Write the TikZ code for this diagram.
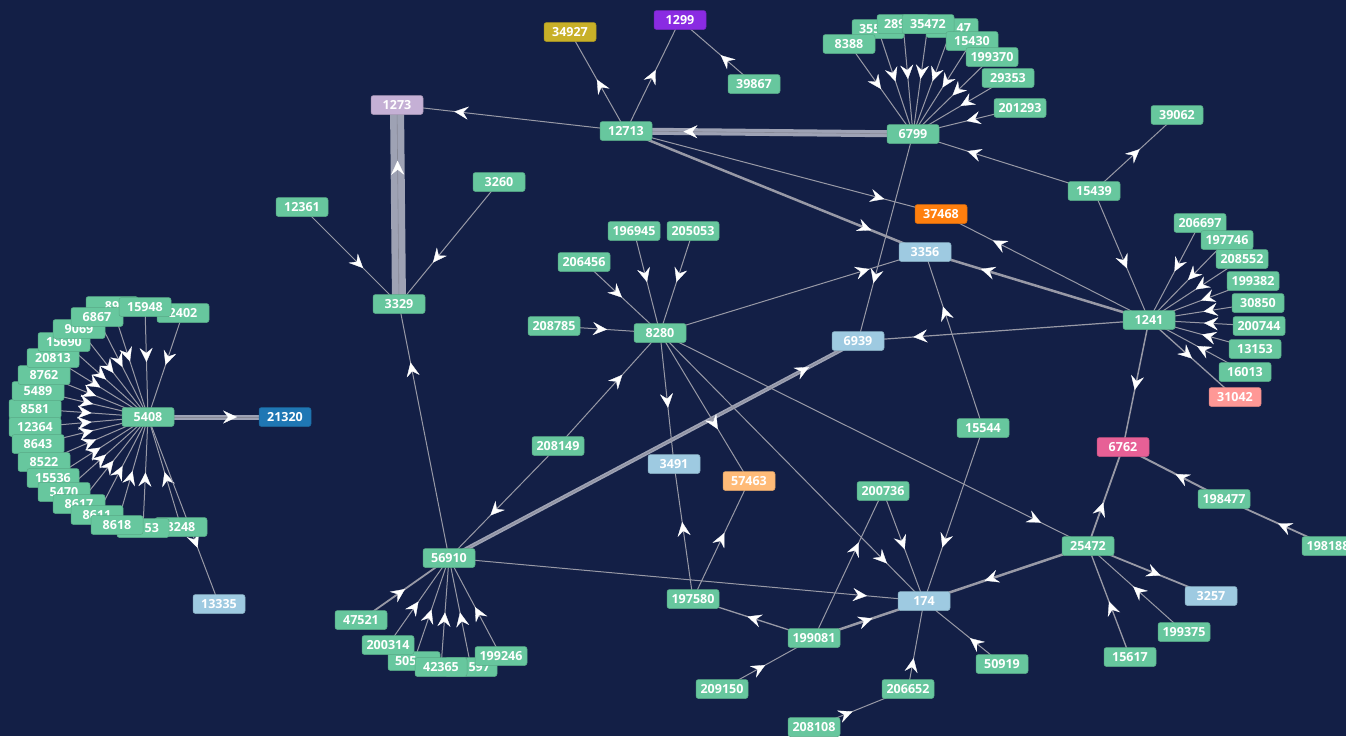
\documentclass[tikz,border=0pt]{standalone}
\usepackage{fontspec}
\newfontfamily\nf{Open Sans}
\usetikzlibrary{arrows.meta,decorations.markings}
\pgfdeclarelayer{back}
\pgfdeclarelayer{edges}
\pgfsetlayers{back,edges,main}
\definecolor{bgc}{RGB}{19,31,70}
\definecolor{egrey}{RGB}{152,153,166}
\definecolor{egreyT}{RGB}{158,162,180}
\definecolor{egreyD}{RGB}{135,137,150}
\definecolor{ngreen}{RGB}{103,199,158}
\definecolor{nlblue}{RGB}{158,202,225}
\definecolor{ndblue}{RGB}{31,119,180}
\definecolor{nlilac}{RGB}{197,176,213}
\definecolor{npurple}{RGB}{138,43,226}
\definecolor{ngold}{RGB}{200,176,40}
\definecolor{norange}{RGB}{255,127,14}
\definecolor{npeach}{RGB}{255,187,120}
\definecolor{nsalmon}{RGB}{255,152,150}
\definecolor{npink}{RGB}{231,96,150}
\tikzset{
  nb/.style={rectangle, rounded corners=2.5pt, minimum width=52pt, minimum height=19pt,
    inner sep=0pt, text=white, font=\nf\bfseries\fontsize{12.5}{12.5}\selectfont,
    fill=#1, draw=#1!85!black, line width=0.5pt},
  nb/.default=ngreen,
  part/.style={text width=38pt, align=left},
  partr/.style={text width=38pt, align=right},
  ed/.style={draw=egrey, line width=1pt, postaction={decorate, decoration={markings,
    mark=at position #1 with {\arrow[white]{Stealth[length=14pt,width=13pt,inset=5pt,line width=0.3pt]}}}}},
  ed/.default=0.6,
}
\newcommand\lnk[4][1]{\draw[ed=#4, line width=#1pt] (#2.center) -- (#3.center);}
\newcommand\lnkT[4][4]{\draw[draw=egreyT, line width=#1pt] (#2.center) -- (#3.center);
  \draw[draw=egreyD, line width=0.6pt] (#2.center) -- (#3.center);
  \path[ed=#4, draw=none] (#2.center) -- (#3.center);}
\begin{document}
\begin{tikzpicture}[x=1pt,y=-1pt]
\useasboundingbox (0,0) rectangle (1346,736);
\begin{pgfonlayer}{back}
\fill[bgc] (0,0) rectangle (1346,736);
\end{pgfonlayer}
% ---------- left ring ----------
\node[nb] (n8581) at (35,409) {8581};
\node[nb] (n12364) at (35,427) {12364};
\node[nb] (n5489) at (38,391) {5489};
\node[nb] (n8643) at (38,444) {8643};
\node[nb] (n8762) at (44,375) {8762};
\node[nb] (n8522) at (44,462) {8522};
\node[nb] (n20813) at (53,358) {20813};
\node[nb] (n15536) at (53,478) {15536};
\node[nb] (n15690) at (64,342) {15690};
\node[nb] (n5470) at (64,492) {5470};
\node[nb] (n9069) at (79,329) {9069};
\node[nb] (n8617) at (79,504) {8617};
\node[nb] (n89) at (112,306) {89};
\node[nb] (n8611) at (97,515) {8611};
\node[nb] (n6867) at (97,317) {6867};
\node[nb] (n8248) at (181,527) {8248};
\node[nb] (n2402) at (183,313) {2402};
\node[nb, text width=32pt, align=right] (n53) at (143,528) {53};
\node[nb] (n15948) at (145,307) {15948};
\node[nb] (n8618) at (117,525) {8618};
\node[nb] (n5408) at (148,417) {5408};
\node[nb=ndblue] (n21320) at (285,417) {21320};
\node[nb=nlblue] (n13335) at (219,604) {13335};
% ---------- top ----------
\node[nb=nlilac] (n1273) at (397,105) {1273};
\node[nb=ngold] (n34927) at (570,32) {34927};
\node[nb=npurple] (n1299) at (680,20) {1299};
\node[nb] (n39867) at (754,84) {39867};
\node[nb] (n12713) at (626,131) {12713};
\node[nb] (n6799) at (913,134) {6799};
\node[nb, part] (n355) at (878,29) {355};
\node[nb, part] (n289) at (903,24) {289};
\node[nb, partr] (n47) at (952,28) {47};
\node[nb] (n35472) at (928,24) {35472};
\node[nb] (n15430) at (972,41) {15430};
\node[nb] (n199370) at (992,57) {199370};
\node[nb] (n29353) at (1008,78) {29353};
\node[nb] (n201293) at (1020,108) {201293};
\node[nb] (n8388) at (849,44) {8388};
\node[nb] (n39062) at (1177,115) {39062};
\node[nb] (n15439) at (1094,191) {15439};
\node[nb=norange] (n37468) at (941,214) {37468};
\node[nb=nlblue] (n3356) at (925,252) {3356};
\node[nb] (n12361) at (302,207) {12361};
\node[nb] (n3260) at (499,182) {3260};
\node[nb] (n3329) at (399,304) {3329};
% ---------- middle ----------
\node[nb] (n196945) at (634,231) {196945};
\node[nb] (n205053) at (693,231) {205053};
\node[nb] (n206456) at (584,262) {206456};
\node[nb] (n208785) at (554,326) {208785};
\node[nb] (n8280) at (660,333) {8280};
\node[nb=nlblue] (n6939) at (858,341) {6939};
\node[nb] (n1241) at (1149,320) {1241};
\node[nb] (n206697) at (1200,223) {206697};
\node[nb] (n197746) at (1227,240) {197746};
\node[nb] (n208552) at (1242,259) {208552};
\node[nb] (n199382) at (1253,281) {199382};
\node[nb] (n30850) at (1258,303) {30850};
\node[nb] (n200744) at (1259,326) {200744};
\node[nb] (n13153) at (1255,349) {13153};
\node[nb] (n16013) at (1245,372) {16013};
\node[nb=nsalmon] (n31042) at (1235,397) {31042};
\node[nb] (n15544) at (983,428) {15544};
\node[nb] (n208149) at (558,446) {208149};
\node[nb=nlblue] (n3491) at (674,464) {3491};
\node[nb=npeach] (n57463) at (749,481) {57463};
\node[nb=npink] (n6762) at (1123,447) {6762};
\node[nb] (n198477) at (1224,499) {198477};
\node[nb] (n198188) at (1328,546) {198188};
% ---------- bottom ----------
\node[nb] (n200736) at (883,491) {200736};
\node[nb] (n25472) at (1088,546) {25472};
\node[nb=nlblue] (n3257) at (1211,596) {3257};
\node[nb] (n199375) at (1184,632) {199375};
\node[nb] (n15617) at (1130,657) {15617};
\node[nb] (n56910) at (449,558) {56910};
\node[nb=nlblue] (n174) at (924,601) {174};
\node[nb] (n197580) at (693,599) {197580};
\node[nb] (n199081) at (814,638) {199081};
\node[nb] (n50919) at (1002,664) {50919};
\node[nb] (n209150) at (722,689) {209150};
\node[nb] (n206652) at (908,689) {206652};
\node[nb] (n208108) at (814,727) {208108};
\node[nb, part] (n505) at (414,661) {505};
\node[nb, partr] (n597) at (471,667) {597};
\node[nb] (n42365) at (441,667) {42365};
\node[nb] (n200314) at (388,645) {200314};
\node[nb] (n47521) at (361,620) {47521};
\node[nb] (n199246) at (501,656) {199246};
% ---------- edges ----------
\begin{pgfonlayer}{edges}
\foreach \s in {89,15948,2402,6867,9069,15690,20813,8762,5489,8581,12364,8643,8522,15536,5470,8617,8611,8618,53,8248}
  {\lnk{n\s}{n5408}{0.5}}
\lnkT[5]{n5408}{n21320}{0.65}
\lnk{n5408}{n13335}{0.7}
\lnkT[14]{n3329}{n1273}{0.72}
\lnk{n12361}{n3329}{0.63}
\lnk{n3260}{n3329}{0.66}
\lnk{n56910}{n3329}{0.77}
\lnk{n12713}{n1273}{0.75}
\lnk{n12713}{n34927}{0.52}
\lnk{n12713}{n1299}{0.55}
\lnk{n39867}{n1299}{0.45}
\lnkT[7]{n6799}{n12713}{0.8}
\foreach \s in {8388,355,289,35472,47,15430,199370,29353,201293}
  {\lnk{n\s}{n6799}{0.5}}
\lnk{n15439}{n6799}{0.7}
\lnk{n15439}{n39062}{0.55}
\lnk{n15439}{n1241}{0.6}
\lnk{n12713}{n37468}{0.82}
\lnk[2.5]{n12713}{n3356}{0.82}
\lnk{n6799}{n6939}{0.72}
\lnk{n1241}{n37468}{0.75}
\lnk[2.5]{n1241}{n3356}{0.75}
\lnk[1.2]{n1241}{n6939}{0.81}
\foreach \s in {206697,197746,208552,199382,30850,200744,13153,16013}
  {\lnk{n\s}{n1241}{0.5}}
\lnk[1.3]{n1241}{n31042}{0.5}
\lnk[1.5]{n1241}{n6762}{0.55}
\lnk{n8280}{n3356}{0.79}
\lnk{n15544}{n3356}{0.69}
\lnk{n15544}{n174}{0.69}
\lnkT[4]{n56910}{n6939}{0.88}
\foreach \s in {196945,205053,206456,208785}
  {\lnk{n\s}{n8280}{0.5}}
\lnk{n208149}{n8280}{0.63}
\lnk{n208149}{n56910}{0.62}
\lnk{n8280}{n3491}{0.57}
\lnk{n8280}{n57463}{0.65}
\lnk{n8280}{n174}{0.86}
\lnk{n8280}{n25472}{0.89}
\lnk{n197580}{n3491}{0.57}
\lnk{n197580}{n57463}{0.56}
\lnk{n56910}{n174}{0.88}
\lnk[1.3]{n199081}{n197580}{0.55}
\lnk[2.5]{n199081}{n174}{0.53}
\lnk{n199081}{n200736}{0.65}
\lnk{n200736}{n174}{0.53}
\lnk{n209150}{n199081}{0.47}
\lnk{n206652}{n174}{0.35}
\lnk{n208108}{n206652}{0.41}
\lnk{n50919}{n174}{0.41}
\lnk[2.5]{n25472}{n174}{0.63}
\lnk[1.8]{n25472}{n6762}{0.44}
\lnk[1.8]{n25472}{n3257}{0.59}
\lnk{n199375}{n25472}{0.53}
\lnk[1.3]{n15617}{n25472}{0.5}
\lnk[2]{n198477}{n6762}{0.48}
\lnk[1.8]{n198188}{n198477}{0.48}
\lnk[1.8]{n47521}{n56910}{0.5}
\foreach \s in {200314,505,42365,597,199246}
  {\lnk{n\s}{n56910}{0.5}}
\end{pgfonlayer}
\end{tikzpicture}
\end{document}
